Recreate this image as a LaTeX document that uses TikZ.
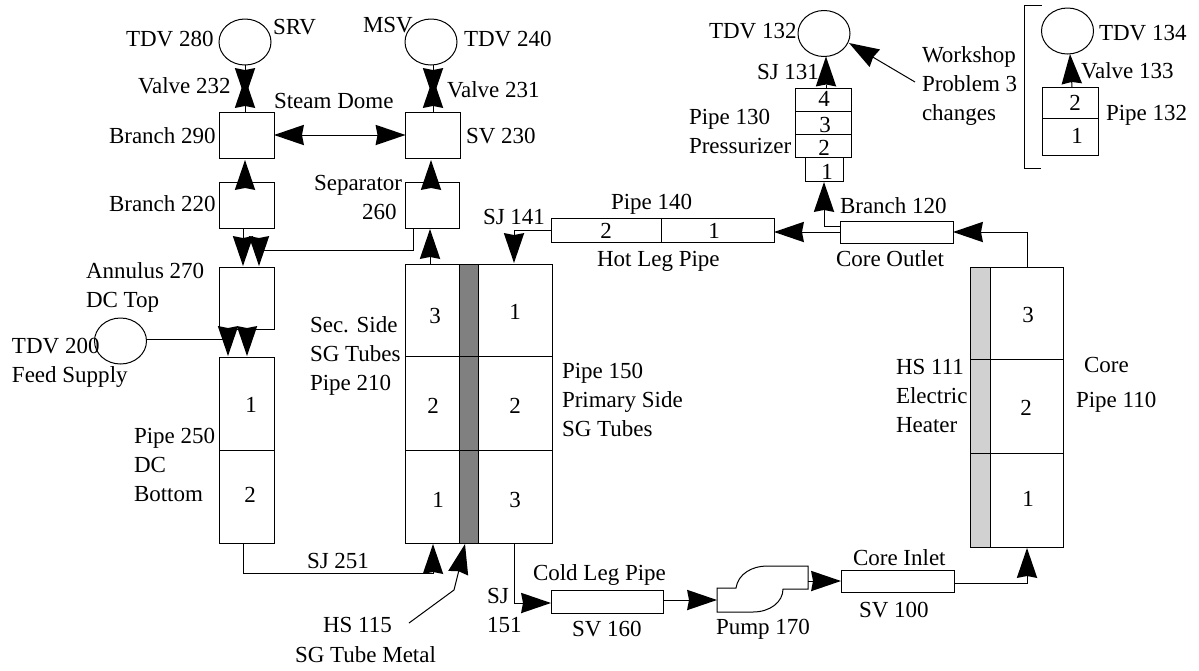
\documentclass[tikz,border=0pt]{standalone}
\usepackage{fontspec}
\setmainfont{Liberation Serif}
\usetikzlibrary{arrows.meta,calc,shapes.geometric}
\tikzset{
  every node/.style={inner sep=0pt,outer sep=0pt,font=\fontsize{23}{29}\selectfont},
  cell/.style={draw=black,fill=white,line width=1pt,minimum width=#1},
  tall/.style={minimum height=#1},
  metal/.style={draw=black,fill=black!50,line width=1pt},
  heater/.style={draw=black,fill=black!18,line width=1pt},
  tank/.style={draw=black,fill=white,line width=1pt,ellipse,minimum width=52pt,minimum height=46pt},
  lbl/.style={anchor=base west,align=left},
  dig/.style={anchor=base},
  flow/.style={line width=1pt,-{Stealth[length=30pt,width=20.5pt,inset=2pt,line width=0pt]}},
  flowtwo/.style={line width=1pt,{Stealth[length=30pt,width=20.5pt,inset=2pt,line width=0pt]}-{Stealth[length=30pt,width=20.5pt,inset=2pt,line width=0pt]}},
  plain/.style={line width=1pt}
}
\newcommand{\twol}[2]{\vtop{\hbox{#1}\hbox{#2}}}
\newcommand{\threel}[3]{\vtop{\hbox{#1}\hbox{#2}\hbox{#3}}}
\begin{document}
\begin{tikzpicture}[x=1pt,y=-1pt]
\fill[white] (0,0) rectangle (1199,670);
\useasboundingbox (0,0) rectangle (1199,670);
% tanks
\node[tank] (t280) at (245,42) {};
\node[tank] (t240) at (431,42) {};
\node[tank] (t132) at (824,33.5) {};
\node[tank] (t134) at (1067.5,31) {};
\node[tank] (t200) at (120.5,341) {};
% boxes secondary
\node[cell=55pt,tall=46pt] (b290) at (246.5,135) {};
\node[cell=55pt,tall=46pt] (s230) at (433,135) {};
\node[cell=55pt,tall=46pt] (b220) at (246.5,205) {};
\node[cell=54pt,tall=46pt] (s260) at (432,205) {};
\node[cell=55pt,tall=62pt] (a270) at (246.5,298) {};
\node[cell=55pt,tall=93pt] (p2501) at (246.5,403.5) {};
\node[cell=55pt,tall=93pt] (p2502) at (246.5,496.5) {};
% SG
\node[cell=54pt,tall=92pt] (p2103) at (432,310) {};
\node[cell=54pt,tall=94pt] (p2102) at (432,403) {};
\node[cell=54pt,tall=93pt] (p2101) at (432,496.5) {};
\node[cell=74pt,tall=92pt] (p1501) at (515,310) {};
\node[cell=74pt,tall=94pt] (p1502) at (515,403) {};
\node[cell=74pt,tall=93pt] (p1503) at (515,496.5) {};
\node[metal,minimum width=19pt,minimum height=92pt] (h1153) at (468.5,310) {};
\node[metal,minimum width=19pt,minimum height=94pt] (h1152) at (468.5,403) {};
\node[metal,minimum width=19pt,minimum height=93pt] (h1151) at (468.5,496.5) {};
% core
\node[cell=73pt,tall=92pt] (p1103) at (1026.5,313) {};
\node[cell=73pt,tall=94pt] (p1102) at (1026.5,406) {};
\node[cell=73pt,tall=94pt] (p1101) at (1026.5,500) {};
\node[heater,minimum width=20pt,minimum height=92pt] (h1113) at (980,313) {};
\node[heater,minimum width=20pt,minimum height=94pt] (h1112) at (980,406) {};
\node[heater,minimum width=20pt,minimum height=94pt] (h1111) at (980,500) {};
% pressurizer
\node[cell=56pt,tall=23pt] (p1304) at (823,99.5) {};
\node[cell=56pt,tall=23pt] (p1303) at (823,122.5) {};
\node[cell=56pt,tall=23pt] (p1302) at (823,145.5) {};
\node[cell=38pt,tall=24pt] (p1301) at (824,169) {};
% pipe 132
\node[cell=56pt,tall=31pt] (p1322) at (1070,102.5) {};
\node[cell=56pt,tall=37pt] (p1321) at (1070,136.5) {};
% horizontal pipes
\node[cell=110pt,tall=24pt] (p1402) at (606,230) {};
\node[cell=113pt,tall=24pt] (p1401) at (717.5,230) {};
\node[cell=113pt,tall=22pt] (b120) at (896.5,232) {};
\node[cell=112pt,tall=23pt] (s160) at (607,601.5) {};
\node[cell=113pt,tall=22pt] (s100) at (897.5,581) {};
% pump
\draw[plain,fill=white] (717,588) -- (736,588) .. controls (738,574) and (752,566) .. (767,566) -- (808,566) -- (808,589) -- (783,589) .. controls (783,602) and (770,612) .. (753,612) -- (717,612) -- cycle;
\coordinate (pumpin) at (717,600);
\coordinate (pumpout) at (808,581);
% valves
\coordinate (v232a) at (245,98);
\coordinate (v232b) at (245,78);
\coordinate (v231a) at (433,98);
\coordinate (v231b) at (433,78);
\draw[flow] (245,65) -- (v232a);
\draw[flow] ([xshift=-1.5pt]b290.north) -- (v232b);
\draw[flow] (433,65) -- (v231a);
\draw[flow] (s230.north) -- (v231b);
% steam dome
\draw[flowtwo] (b290.east) -- (s230.west);
\draw[flow] ([xshift=-1.5pt]b220.north) -- ([xshift=-1.5pt,yshift=-2pt]b290.south);
\draw[flow] ([xshift=-1pt]s260.north) -- ([xshift=-2pt,yshift=-2pt]s230.south);
\draw[flow] ([xshift=-2pt]p2103.north) -- ([xshift=-2pt,yshift=-1pt]s260.south);
\draw[flow] ([xshift=-3.5pt]b220.south) -- ([xshift=-3.5pt,yshift=1pt]a270.north);
\draw[flow] ([xshift=-18.5pt]s260.south) |- (259,250) -- ([xshift=12.5pt,yshift=1pt]a270.north);
\draw[flow] ([yshift=2pt]t200.east) -- (228,339) -- ([xshift=-18.5pt,yshift=1pt]p2501.north);
\draw[flow] ([xshift=0.5pt]a270.south) -- ([xshift=0.5pt,yshift=1pt]p2501.north);
\draw[flow] ([xshift=-3pt]p2502.south) |- (433,573) -- ([xshift=1pt,yshift=-1pt]p2101.south);
% HS 115
\coordinate (hs115free) at (409,623);
\draw[flow] (hs115free) -- (454,590) -- (458,574) -- ([xshift=-3.5pt,yshift=-1pt]h1151.south);
% primary
\draw[flow] (p1402.west) -- (514,230) -- ([xshift=-1pt,yshift=1pt]p1501.north);
\draw[flow] ([xshift=-1pt]p1503.south) |- (520,603) -- ([yshift=-1.5pt]s160.west);
\draw[flow] ([yshift=1.5pt]s160.east) -- (pumpin);
\draw[flow] (pumpout) -- (s100.west);
\draw[flow] ([yshift=-2pt]s100.east) -| ([xshift=0.5pt,yshift=-1pt]p1101.south);
\draw[flow] ([xshift=0.5pt]p1103.north) |- (b120.east);
\draw[flow] (b120.west) -- (p1401.east |- b120.west);
\draw[flow] ([yshift=6pt]b120.west) -| ([yshift=-1pt]p1301.south);
\draw[flow] ([xshift=3pt]p1304.north) -- ([xshift=2pt]t132.south);
\draw[flow] ([xshift=2pt]p1322.north) -- ([xshift=2.5pt]t134.south);
% workshop pointer
\coordinate (wsfree) at (915,82);
\draw[flow] (wsfree) -- (849,43);
% bracket
\coordinate (brtop) at (1042,5);
\coordinate (brbot) at (1041,168);
\draw[plain] (brtop) -- (1024,5) -- (1024,168) -- (brbot);
% labels
\node[lbl] (l1) at (126,46) {TDV 280};
\node[lbl] (l2) at (273,34) {SRV};
\node[lbl] (l3) at (363,32) {MSV};
\node[lbl] (l4) at (464,46) {TDV 240};
\node[lbl] (l5) at (138,93) {Valve 232};
\node[lbl] (l6) at (447,97) {Valve 231};
\node[lbl] (l7) at (274,108) {Steam Dome};
\node[lbl] (l8) at (109,143) {Branch 290};
\node[lbl] (l9) at (466,143) {SV 230};
\node[lbl] (l10) at (109,211) {Branch 220};
\node[lbl] (l11) at (314,190) {Separator};
\node[lbl] (l12) at (362,219) {260};
\node[lbl] (l13) at (483,224) {SJ 141};
\node[lbl] (l14) at (611,209) {Pipe 140};
\node[lbl] (l15) at (597,266) {Hot Leg Pipe};
\node[lbl] (l16) at (836,266) {Core Outlet};
\node[lbl] (l17) at (840,213) {Branch 120};
\node[lbl] (l18) at (689,124) {\twol{Pipe 130}{Pressurizer}};
\node[lbl] (l19) at (757,79) {SJ 131};
\node[lbl] (l20) at (709,38) {TDV 132};
\node[lbl] (l21) at (922,62) {\threel{Workshop}{Problem 3}{changes}};
\node[lbl] (l22) at (1099,40) {TDV 134};
\node[lbl] (l23) at (1081,78) {Valve 133};
\node[lbl] (l24) at (1106,120) {Pipe 132};
\node[lbl] (l25) at (86,278) {\twol{Annulus 270}{DC Top}};
\node[lbl] (l26) at (12,353) {\twol{TDV 200}{Feed Supply}};
\node[lbl] (l27) at (134,443) {\threel{Pipe 250}{DC}{Bottom}};
\node[lbl] (l28) at (310,332) {\threel{Sec. Side}{SG Tubes}{Pipe 210}};
\node[lbl] (l29) at (562,378) {\threel{Pipe 150}{Primary Side}{SG Tubes}};
\node[lbl] (l30) at (307,568) {SJ 251};
\node[lbl] (l31) at (323,632) {HS 115};
\node[lbl] (l32) at (295,662) {SG Tube Metal};
\node[lbl] (l33) at (487,603) {\twol{SJ}{151}};
\node[lbl] (l34) at (533,580) {Cold Leg Pipe};
\node[lbl] (l35) at (572,636) {SV 160};
\node[lbl] (l36) at (716,634) {Pump 170};
\node[lbl] (l37) at (853,565) {Core Inlet};
\node[lbl] (l38) at (859,617) {SV 100};
\node[lbl] (l39) at (896,374) {\threel{HS 111}{Electric}{Heater}};
\node[lbl] (l40) at (1084,372) {Core};
\node[lbl] (l41) at (1076,407) {Pipe 110};
% digits
\node[dig] (d1) at (1075,110) {2};
\node[dig] (d2) at (1077,143) {1};
\node[dig] (d3) at (824,106) {4};
\node[dig] (d4) at (825,132) {3};
\node[dig] (d5) at (824,155) {2};
\node[dig] (d6) at (827,179) {1};
\node[dig] (d7) at (606,238) {2};
\node[dig] (d8) at (714,238) {1};
\node[dig] (d9) at (251,412) {1};
\node[dig] (d10) at (250,502) {2};
\node[dig] (d11) at (435,323) {3};
\node[dig] (d12) at (433,413) {2};
\node[dig] (d13) at (438,507) {1};
\node[dig] (d14) at (515,319) {1};
\node[dig] (d15) at (515,413) {2};
\node[dig] (d16) at (515,507) {3};
\node[dig] (d17) at (1028,322) {3};
\node[dig] (d18) at (1026,415) {2};
\node[dig] (d19) at (1028,506) {1};
\end{tikzpicture}
\end{document}
